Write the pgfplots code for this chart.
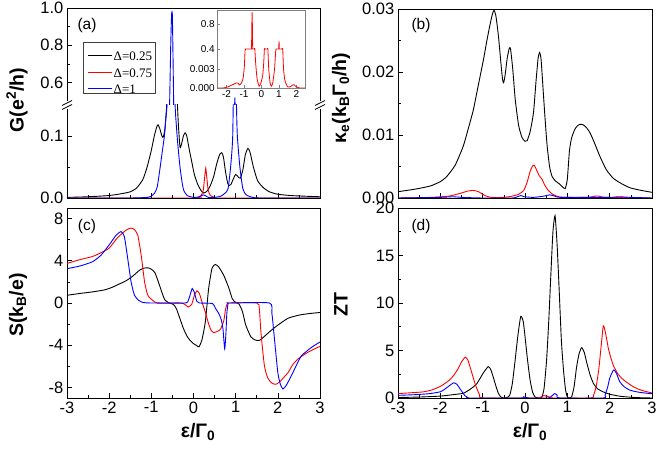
\documentclass[border=0pt]{standalone}
\usepackage{fontspec}
\setmainfont{Liberation Sans}
\newfontfamily\serifleg{Liberation Serif}
\usepackage{pgfplots}
\usepackage{pgfplotstable}
\pgfplotsset{compat=1.18}
\pgfplotsset{
  base/.style={scale only axis, anchor=south west, clip mode=individual,
    tick align=inside, xtick pos=bottom, ytick pos=left,
    major tick length=5pt, minor tick length=3pt,
    every tick/.style={black, line width=0.6pt},
    axis line style={line width=0.8pt},
    tick label style={font=\fontsize{16.5}{16.5}\selectfont},
    yticklabel style={inner sep=3.5pt},
    /pgf/number format/assume math mode=true,
    scaled y ticks=false, scaled x ticks=false,
    xmin=-3, xmax=3, xtick={-3,...,3}, minor x tick num=1,
    every axis plot/.append style={line width=0.9pt, smooth, tension=0.35}},
  nobox/.style={axis line style={draw=none}},
}
\newcommand\lowerframe{\draw[line width=0.8pt] (rel axis cs:0,1) -- (rel axis cs:0,0) -- (rel axis cs:1,0) -- (rel axis cs:1,1);}
\newcommand\upperframe{\draw[line width=0.8pt] (rel axis cs:0,0) -- (rel axis cs:0,1) -- (rel axis cs:1,1) -- (rel axis cs:1,0);}
\pgfplotstableread[row sep=\\]{x y\\ -3.0 0.001\\ -2.5 0.002\\ -2.0 0.004\\ -1.7 0.007\\ -1.5 0.010\\ -1.35 0.016\\ -1.2 0.030\\ -1.1 0.050\\ -1.0 0.077\\ -0.93 0.100\\ -0.87 0.115\\ -0.84 0.118\\ -0.80 0.112\\ -0.75 0.100\\ -0.72 0.098\\ -0.68 0.110\\ -0.64 0.145\\ -0.60 0.200\\ -0.55 0.280\\ -0.50 0.300\\ -0.45 0.260\\ -0.40 0.180\\ -0.36 0.120\\ -0.32 0.082\\ -0.28 0.088\\ -0.24 0.100\\ -0.20 0.105\\ -0.16 0.100\\ -0.10 0.078\\ -0.04 0.058\\ 0.02 0.038\\ 0.10 0.022\\ 0.18 0.012\\ 0.24 0.008\\ 0.32 0.011\\ 0.40 0.020\\ 0.48 0.035\\ 0.55 0.055\\ 0.62 0.070\\ 0.67 0.073\\ 0.71 0.066\\ 0.76 0.042\\ 0.81 0.024\\ 0.85 0.020\\ 0.89 0.022\\ 0.94 0.030\\ 1.00 0.038\\ 1.06 0.034\\ 1.11 0.032\\ 1.17 0.045\\ 1.23 0.070\\ 1.29 0.080\\ 1.34 0.074\\ 1.42 0.050\\ 1.52 0.028\\ 1.65 0.017\\ 1.8 0.010\\ 2.0 0.006\\ 2.3 0.004\\ 2.6 0.003\\ 3.0 0.002\\}\Gblack
\pgfplotstableread[row sep=\\]{x y\\ -3.0 0.0\\ 0.0 0.0\\ 0.10 0.001\\ 0.18 0.004\\ 0.23 0.012\\ 0.26 0.030\\ 0.29 0.048\\ 0.32 0.030\\ 0.35 0.012\\ 0.40 0.004\\ 0.50 0.001\\ 0.6 0.0\\ 3.0 0.0\\}\Gred
\pgfplotstableread[row sep=\\]{x y\\ -3.0 0.0\\ -1.5 0.0\\ -1.1 0.001\\ -1.0 0.003\\ -0.92 0.008\\ -0.86 0.018\\ -0.80 0.045\\ -0.75 0.070\\ -0.69 0.100\\ -0.66 0.125\\ -0.63 0.150\\ -0.60 0.250\\ -0.57 0.450\\ -0.54 0.800\\ -0.52 0.960\\ -0.51 0.980\\ -0.50 0.950\\ -0.48 0.650\\ -0.46 0.320\\ -0.44 0.160\\ -0.41 0.120\\ -0.37 0.085\\ -0.32 0.050\\ -0.27 0.025\\ -0.23 0.012\\ -0.15 0.004\\ 0.0 0.001\\ 0.15 0.002\\ 0.22 0.005\\ 0.28 0.004\\ 0.35 0.001\\ 0.5 0.001\\ 0.65 0.003\\ 0.75 0.008\\ 0.82 0.015\\ 0.88 0.050\\ 0.93 0.100\\ 0.96 0.250\\ 0.97 0.400\\ 0.98 0.520\\ 0.99 0.450\\ 1.00 0.300\\ 1.02 0.150\\ 1.04 0.100\\ 1.10 0.050\\ 1.17 0.015\\ 1.25 0.005\\ 1.4 0.001\\ 1.6 0.0\\ 3.0 0.0\\}\Gblue
\pgfplotstableread[row sep=\\]{x y\\ -2.55 0.0\\ -2.2 0.0\\ -1.9 0.0002\\ -1.6 0.0006\\ -1.45 0.0008\\ -1.35 0.0008\\ -1.25 0.0005\\ -1.15 0.0008\\ -1.05 0.0016\\ -0.98 0.0035\\ -0.94 0.006\\ -0.91 0.02\\ -0.85 0.05\\ -0.75 0.04\\ -0.65 0.03\\ -0.58 0.2\\ -0.555 0.7\\ -0.535 0.98\\ -0.515 0.7\\ -0.49 0.2\\ -0.42 0.03\\ -0.38 0.008\\ -0.33 0.004\\ -0.25 0.0015\\ -0.13 0.0003\\ -0.03 0.0008\\ 0.07 0.002\\ 0.13 0.004\\ 0.17 0.007\\ 0.20 0.03\\ 0.27 0.05\\ 0.34 0.03\\ 0.37 0.008\\ 0.42 0.003\\ 0.50 0.0008\\ 0.57 0.0003\\ 0.65 0.0008\\ 0.75 0.003\\ 0.82 0.006\\ 0.86 0.03\\ 0.94 0.08\\ 0.98 0.3\\ 1.01 0.52\\ 1.04 0.3\\ 1.08 0.08\\ 1.18 0.03\\ 1.22 0.007\\ 1.27 0.003\\ 1.35 0.0012\\ 1.50 0.0002\\ 1.65 0.0002\\ 1.80 0.0005\\ 1.88 0.0005\\ 2.0 0.0002\\ 2.2 0.0\\ 2.5 0.0\\}\Ginset
\begin{document}
\begin{tikzpicture}[x=1pt,y=1pt]
% ---------- (a) lower
\begin{axis}[base, nobox, at={(67pt,254pt)}, width=253pt, height=93pt,
  ymin=0, ymax=0.15, ytick={0,0.1}, minor ytick={0.05}, xticklabels={},
  yticklabel style={/pgf/number format/.cd, fixed, fixed zerofill, precision=1},
  after end axis/.code={\lowerframe}]
\addplot[black] table {\Gblack};
\addplot[red] table {\Gred};
\addplot[blue] table {\Gblue};
\end{axis}
% ---------- (a) upper
\begin{axis}[base, nobox, at={(67pt,347pt)}, width=253pt, height=97pt,
  ymin=0.48, ymax=1.0, ytick={0.6,0.8,1.0}, minor ytick={0.5,0.7,0.9}, xtick=\empty,
  yticklabel style={/pgf/number format/.cd, fixed, fixed zerofill, precision=1},
  after end axis/.code={\upperframe}]
\addplot[black] table {\Gblack};
\addplot[red] table {\Gred};
\addplot[blue] table {\Gblue};
\end{axis}
% legend
\draw[black!75, line width=0.6pt, fill=white] (83,359) rectangle (155.5,409.5);
\draw[black, line width=1pt] (88,396) -- (112,396);
\draw[red, line width=1pt] (88,379) -- (112,379);
\draw[blue, line width=1pt] (88,363) -- (112,363);
\node[anchor=west, inner sep=0pt, font=\serifleg\fontsize{13}{13}\selectfont] at (113.5,396) {Δ=0.25};
\node[anchor=west, inner sep=0pt, font=\serifleg\fontsize{13}{13}\selectfont] at (113.5,379) {Δ=0.75};
\node[anchor=west, inner sep=0pt, font=\serifleg\fontsize{13}{13}\selectfont] at (113.5,363) {Δ=1};
% break marks
\fill[white] (63,343) rectangle (71,351);
\fill[white] (316,343) rectangle (324,351);
\foreach \xx in {67,320}{
  \draw[line width=0.7pt] (\xx-5,342.5) -- (\xx+5,347.5);
  \draw[line width=0.7pt] (\xx-5,346.5) -- (\xx+5,351.5);
}
% ---------- inset lower
\begin{axis}[base, nobox, at={(217pt,364pt)}, width=88pt, height=39pt,
  xmin=-2.55, xmax=2.5, xtick={-2,...,2}, minor x tick num=0,
  ymin=0, ymax=0.0063, ytick={0,0.003},
  restrict y to domain*=0:0.0063,
  major tick length=2.5pt, every tick/.style={gray, line width=0.5pt},
  tick label style={font=\fontsize{10}{10}\selectfont},
  xticklabel style={inner sep=2pt},
  yticklabel style={inner sep=2pt,/pgf/number format/.cd, fixed, fixed zerofill, precision=3},
  after end axis/.code={\draw[gray, line width=0.6pt] (rel axis cs:0,1) -- (rel axis cs:0,0) -- (rel axis cs:1,0) -- (rel axis cs:1,1);}]
\addplot[red, line width=0.8pt] table {\Ginset};
\end{axis}
% ---------- inset upper
\begin{axis}[base, nobox, at={(217pt,403pt)}, width=88pt, height=39pt,
  xmin=-2.55, xmax=2.5, xtick=\empty,
  ymin=0.4, ymax=1.02, ytick={0.4,0.8},
  major tick length=2.5pt, every tick/.style={gray, line width=0.5pt},
  tick label style={font=\fontsize{10}{10}\selectfont},
  yticklabel style={inner sep=2pt,/pgf/number format/.cd, fixed, precision=1},
  after end axis/.code={\draw[gray, line width=0.6pt] (rel axis cs:0,0) -- (rel axis cs:0,1) -- (rel axis cs:1,1) -- (rel axis cs:1,0);}]
\addplot[red, line width=0.8pt] table {\Ginset};
\end{axis}
% ---------- (b)
\begin{axis}[base, at={(398pt,254pt)}, width=254pt, height=189pt,
  ymin=0, ymax=0.03, ytick={0,0.01,0.02,0.03}, minor y tick num=1, xticklabels={},
  yticklabel style={/pgf/number format/.cd, fixed, fixed zerofill, precision=2}]
\addplot[black] coordinates {(-3.0,0.0010)(-2.6,0.0014)(-2.24,0.0019)(-2.0,0.0026)(-1.85,0.0034)(-1.65,0.0052)(-1.46,0.0082)(-1.34,0.0110)(-1.22,0.0140)(-1.10,0.0180)(-0.98,0.0220)(-0.90,0.0250)(-0.83,0.0274)(-0.77,0.0292)(-0.73,0.0298)(-0.69,0.0290)(-0.65,0.0270)(-0.62,0.0252)(-0.57,0.0215)(-0.53,0.0188)(-0.505,0.0183)(-0.47,0.0195)(-0.42,0.0222)(-0.37,0.0238)(-0.34,0.0236)(-0.29,0.0205)(-0.23,0.0156)(-0.15,0.0115)(-0.07,0.0096)(0.0,0.0090)(0.05,0.0091)(0.12,0.0105)(0.20,0.0135)(0.26,0.0185)(0.31,0.0222)(0.345,0.0231)(0.38,0.0220)(0.43,0.0170)(0.47,0.0130)(0.52,0.0085)(0.58,0.0050)(0.64,0.0034)(0.72,0.0027)(0.80,0.0023)(0.88,0.0018)(0.95,0.0015)(1.00,0.0030)(1.05,0.0075)(1.10,0.0095)(1.17,0.0108)(1.23,0.0114)(1.30,0.0117)(1.38,0.0116)(1.46,0.0111)(1.54,0.0103)(1.65,0.0086)(1.77,0.0066)(1.92,0.0045)(2.09,0.0031)(2.3,0.0022)(2.49,0.0016)(2.75,0.0012)(3.0,0.0009)};
\addplot[red] coordinates {(-3.0,0.0)(-2.2,0.0001)(-1.8,0.0003)(-1.55,0.0007)(-1.35,0.0011)(-1.22,0.0012)(-1.10,0.0010)(-0.95,0.0004)(-0.80,0.0001)(-0.5,0.0001)(-0.3,0.0003)(-0.15,0.0006)(-0.03,0.0012)(0.05,0.0025)(0.12,0.0042)(0.18,0.0051)(0.22,0.0052)(0.27,0.0045)(0.33,0.0036)(0.40,0.0030)(0.47,0.0020)(0.55,0.0012)(0.65,0.0006)(0.75,0.0003)(0.9,0.0001)(1.5,0.0001)(1.65,0.0003)(1.75,0.0003)(1.9,0.0001)(3.0,0.0)};
\addplot[blue] coordinates {(-3.0,0.0)(-2.0,0.0001)(-1.7,0.0002)(-1.5,0.0001)(-1.0,0.0)(-0.3,0.0)(-0.18,0.0002)(-0.1,0.0004)(-0.02,0.0002)(0.2,0.0001)(0.45,0.0003)(0.58,0.0005)(0.7,0.0003)(0.85,0.0001)(2.0,0.0001)(2.2,0.0002)(2.5,0.0001)(3.0,0.0)};
\end{axis}
% ---------- (c)
\begin{axis}[base, at={(67pt,54pt)}, width=253pt, height=190pt,
  ymin=-9, ymax=9, ytick={-8,-4,0,4,8}, minor ytick={-6,-2,2,6}]
\addplot[black] coordinates {(-3.0,0.73)(-2.7,0.9)(-2.4,1.05)(-2.1,1.25)(-1.92,1.5)(-1.76,1.8)(-1.6,2.1)(-1.44,2.55)(-1.28,3.1)(-1.18,3.3)(-1.08,3.33)(-1.0,3.2)(-0.92,2.9)(-0.86,2.3)(-0.8,1.6)(-0.74,0.9)(-0.68,0.3)(-0.6,0.05)(-0.52,-0.05)(-0.46,-0.2)(-0.40,-0.6)(-0.32,-1.5)(-0.24,-2.4)(-0.16,-3.1)(-0.08,-3.55)(0.0,-3.85)(0.08,-4.05)(0.13,-4.15)(0.2,-3.5)(0.28,-1.8)(0.36,1.4)(0.44,3.3)(0.52,3.65)(0.6,3.4)(0.72,2.6)(0.84,1.4)(0.92,0.4)(1.0,0.05)(1.08,-0.1)(1.16,-0.8)(1.24,-2.1)(1.36,-3.2)(1.46,-3.5)(1.56,-3.55)(1.7,-3.1)(1.84,-2.6)(2.0,-2.1)(2.24,-1.45)(2.5,-1.15)(2.75,-1.0)(3.0,-0.9)};
\addplot[red] coordinates {(-3.0,3.75)(-2.7,4.1)(-2.4,4.4)(-2.2,4.75)(-2.0,5.2)(-1.8,6.2)(-1.6,6.9)(-1.48,7.1)(-1.4,6.95)(-1.32,6.4)(-1.24,4.5)(-1.16,2.0)(-1.08,0.7)(-0.92,0.1)(-0.8,0.0)(-0.3,0.0)(-0.2,-0.15)(-0.12,-0.38)(-0.04,-0.1)(0.02,0.7)(0.08,1.15)(0.14,0.9)(0.2,0.1)(0.28,-0.86)(0.36,-2.0)(0.42,-2.6)(0.48,-2.8)(0.56,-2.7)(0.64,-2.5)(0.72,-1.65)(0.76,-0.6)(0.8,-0.05)(0.86,0.0)(1.5,0.0)(1.56,-0.5)(1.6,-2.8)(1.68,-5.9)(1.76,-7.1)(1.86,-7.6)(1.96,-7.7)(2.06,-7.4)(2.24,-6.6)(2.36,-5.8)(2.48,-5.3)(2.7,-4.7)(3.0,-4.1)};
\addplot[blue] coordinates {(-3.0,3.25)(-2.7,3.5)(-2.4,3.9)(-2.2,4.5)(-2.0,5.5)(-1.84,6.4)(-1.72,6.76)(-1.64,6.3)(-1.56,4.2)(-1.48,2.0)(-1.40,0.73)(-1.3,0.25)(-1.2,0.05)(-1.0,0.0)(-0.2,0.0)(-0.12,0.3)(-0.07,0.9)(-0.03,1.37)(0.02,1.0)(0.08,0.15)(0.14,0.0)(0.45,-0.05)(0.52,-0.5)(0.6,-1.0)(0.66,-1.6)(0.70,-2.5)(0.74,-4.35)(0.77,-2.8)(0.79,-1.0)(0.82,-0.05)(0.86,0.0)(1.8,0.0)(1.86,-1.0)(1.92,-3.4)(2.0,-6.6)(2.06,-7.7)(2.12,-8.15)(2.2,-7.8)(2.32,-6.9)(2.44,-5.9)(2.56,-5.0)(2.8,-4.2)(3.0,-3.7)};
\end{axis}
% ---------- (d)
\begin{axis}[base, at={(398pt,54pt)}, width=254pt, height=190pt,
  ymin=0, ymax=20, ytick={0,5,...,20}, minor y tick num=1]
\addplot[black] coordinates {(-3.0,0.05)(-2.5,0.1)(-2.0,0.2)(-1.7,0.35)(-1.46,0.5)(-1.3,0.9)(-1.14,1.5)(-0.99,2.6)(-0.87,3.3)(-0.81,3.0)(-0.75,2.2)(-0.69,1.3)(-0.63,0.5)(-0.57,0.1)(-0.51,0.0)(-0.43,0.05)(-0.36,0.3)(-0.30,1.5)(-0.24,3.7)(-0.17,6.5)(-0.10,8.6)(-0.04,8.0)(0.0,6.5)(0.06,4.0)(0.12,1.9)(0.18,0.6)(0.24,0.1)(0.32,0.0)(0.39,0.0)(0.45,1.0)(0.51,4.0)(0.56,8.0)(0.61,12.9)(0.66,17.5)(0.71,19.2)(0.76,16.0)(0.81,11.1)(0.86,6.0)(0.91,2.9)(0.96,0.8)(1.0,0.1)(1.05,0.0)(1.10,0.1)(1.16,1.2)(1.22,3.3)(1.28,4.7)(1.34,5.3)(1.40,4.8)(1.46,3.7)(1.54,2.4)(1.62,1.5)(1.72,0.95)(1.85,0.64)(2.0,0.4)(2.25,0.18)(2.6,0.05)(3.0,0.0)};
\addplot[red] coordinates {(-3.0,0.46)(-2.7,0.55)(-2.41,0.64)(-2.2,0.85)(-2.01,1.2)(-1.9,1.5)(-1.78,1.9)(-1.68,2.4)(-1.58,3.1)(-1.50,3.8)(-1.41,4.3)(-1.35,4.0)(-1.30,3.3)(-1.24,2.4)(-1.18,1.5)(-1.12,0.8)(-1.07,0.3)(-0.99,0.0)(0.3,0.0)(0.38,0.15)(0.45,0.25)(0.52,0.2)(0.6,0.05)(0.7,0.0)(1.55,0.0)(1.62,0.3)(1.68,1.2)(1.74,2.9)(1.80,5.5)(1.85,7.6)(1.90,6.9)(1.97,5.2)(2.03,4.2)(2.09,3.4)(2.2,2.5)(2.33,1.9)(2.5,1.35)(2.64,1.0)(2.8,0.75)(3.0,0.53)};
\addplot[blue] coordinates {(-3.0,0.28)(-2.6,0.35)(-2.25,0.46)(-2.0,0.65)(-1.93,0.82)(-1.8,1.25)(-1.68,1.6)(-1.6,1.4)(-1.54,1.0)(-1.47,0.55)(-1.42,0.25)(-1.35,0.05)(-1.30,0.0)(-0.1,0.0)(-0.03,0.12)(0.03,0.05)(0.1,0.0)(0.55,0.0)(0.62,0.15)(0.70,0.47)(0.76,0.3)(0.82,0.0)(1.85,0.0)(1.89,0.3)(1.95,1.1)(2.0,2.07)(2.06,2.7)(2.1,2.96)(2.16,2.6)(2.24,1.7)(2.34,1.2)(2.48,0.82)(2.7,0.6)(2.95,0.47)(3.0,0.46)};
\end{axis}
% ---------- labels
\node[rotate=90, font=\bfseries\fontsize{19.5}{19.5}\selectfont] at (17,352) {G(e\textsuperscript{2}/h)};
\node[rotate=90, font=\bfseries\fontsize{19.5}{19.5}\selectfont] at (341,354) {κ\textsubscript{e}(k\textsubscript{B}Γ\textsubscript{0}/h)};
\node[rotate=90, font=\bfseries\fontsize{19.5}{19.5}\selectfont] at (18,147) {S(k\textsubscript{B}/e)};
\node[rotate=90, font=\bfseries\fontsize{19.5}{19.5}\selectfont] at (341,147) {ZT};
\node[font=\bfseries\fontsize{19.5}{19.5}\selectfont] at (198,20) {ε/Γ\textsubscript{0}};
\node[font=\bfseries\fontsize{19.5}{19.5}\selectfont] at (530,20) {ε/Γ\textsubscript{0}};
\node[font=\fontsize{15.5}{15.5}\selectfont] at (87,427) {(a)};
\node[font=\fontsize{15.5}{15.5}\selectfont] at (421,427) {(b)};
\node[font=\fontsize{15.5}{15.5}\selectfont] at (87,226) {(c)};
\node[font=\fontsize{15.5}{15.5}\selectfont] at (421,226) {(d)};
\pgfresetboundingbox
\useasboundingbox (0,0) rectangle (657,452);
\end{tikzpicture}
\end{document}
